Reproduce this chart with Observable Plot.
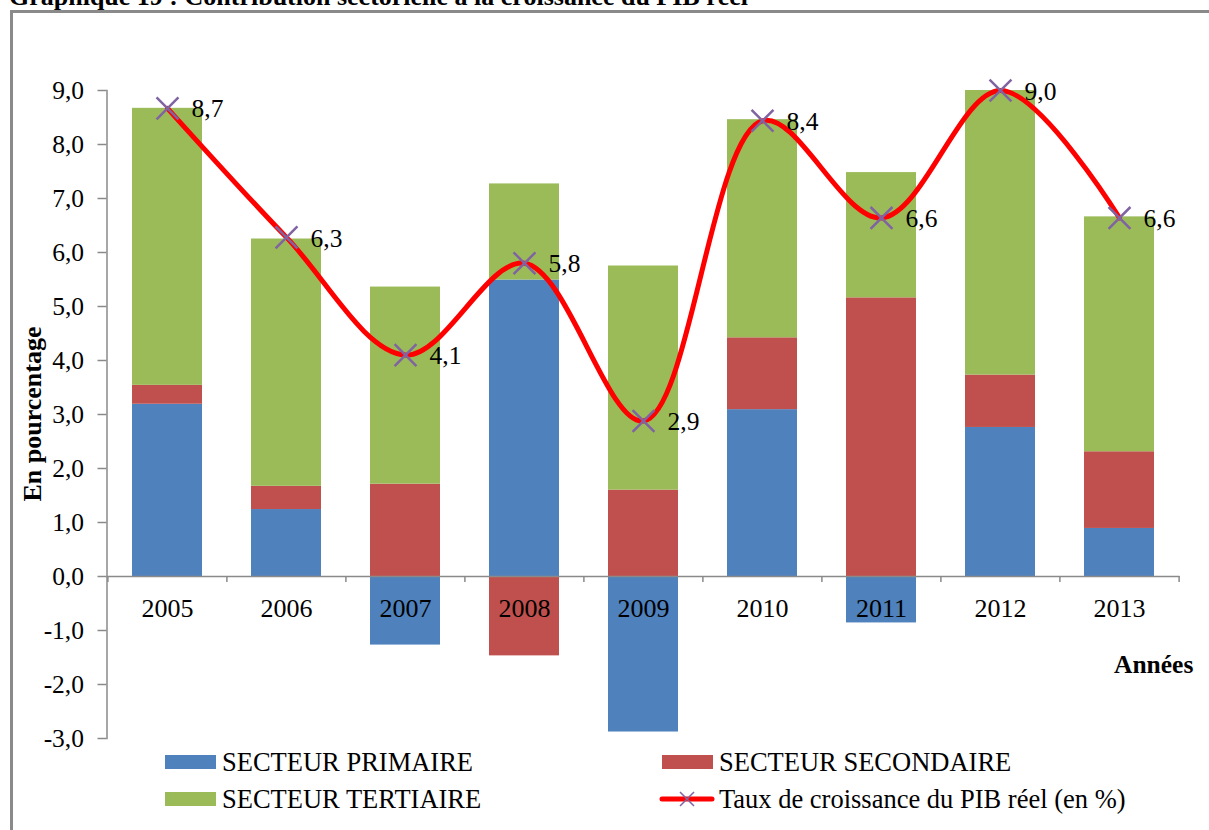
<!DOCTYPE html>
<html>
<head>
<meta charset="utf-8">
<script src="https://cdn.jsdelivr.net/npm/d3@7"></script>
<script src="https://cdn.jsdelivr.net/npm/@observablehq/plot@0.6"></script>
<style>
  html, body { margin: 0; padding: 0; background: #fff; }
  body { width: 1209px; height: 830px; position: relative; overflow: hidden;
         font-family: "Liberation Serif", "Times New Roman", serif; color: #000; }
  #frame { position: absolute; left: 10px; top: 10px; width: 1400px; height: 1000px;
           border-left: 3px solid #8a8a8a; border-top: 3px solid #8a8a8a; }
  #title { position: absolute; left: 9px; top: -16px; font-size: 26px; font-weight: bold;
           line-height: 1; white-space: nowrap; }
  #chart { position: absolute; left: 0; top: 0; }
  .lab { position: absolute; white-space: nowrap; font-size: 26.5px; line-height: 30px; }
  .sw { position: absolute; width: 51px; height: 14px; }
  #ylab { position: absolute; left: 33px; top: 414px; font-size: 26px; font-weight: bold;
          white-space: nowrap; transform: translate(-50%, -50%) rotate(-90deg); }
  #xlab { position: absolute; left: 1114px; top: 650px; font-size: 25.5px; font-weight: bold; line-height: 30px; }
</style>
</head>
<body>
<div id="frame"></div>
<div id="title">Graphique 19 : Contribution sectorielle à la croissance du PIB réel</div>
<div id="chart"></div>
<div id="ylab">En pourcentage</div>
<div id="xlab">Années</div>
<div id="legend"></div>
<script>
// ---- data ----
const years = ["2005", "2006", "2007", "2008", "2009", "2010", "2011", "2012", "2013"];
const secteurs = ["SECTEUR PRIMAIRE", "SECTEUR SECONDAIRE", "SECTEUR TERTIAIRE"];
const primaire   = [3.19, 1.24, -1.27, 5.49, -2.88, 3.09, -0.86, 2.76, 0.89];
const secondaire = [0.35, 0.43, 1.71, -1.47, 1.60, 1.33, 5.16, 0.97, 1.42];
const tertiaire  = [5.13, 4.58, 3.65, 1.78, 4.15, 4.04, 2.32, 5.27, 4.35];
const croissance = [8.67, 6.28, 4.10, 5.80, 2.88, 8.44, 6.64, 9.00, 6.64];
const lineName = "Taux de croissance du PIB réel (en %)";
const yTicks = [-3, -2, -1, 0, 1, 2, 3, 4, 5, 6, 7, 8, 9];

const colors = ["#4F81BD", "#C0504D", "#9BBB59"];
const lineColor = "#FF0000";
const markColor = "#8064A2";

const fmt = d => d.toFixed(1).replace(".", ",");

const rows = [];
years.forEach((y, i) => {
  rows.push({year: y, secteur: secteurs[0], value: primaire[i]});
  rows.push({year: y, secteur: secteurs[1], value: secondaire[i]});
  rows.push({year: y, secteur: secteurs[2], value: tertiaire[i]});
});
const growth = years.map((y, i) => ({year: y, value: croissance[i]}));

const W = 1209, H = 830;
const mL = 106.5, mR = 29.5, mT = 90, mB = 92;
const step = (W - mL - mR) / years.length;

const chart = Plot.plot({
  width: W, height: H,
  marginLeft: mL, marginRight: mR, marginTop: mT, marginBottom: mB,
  style: {fontFamily: "'Liberation Serif', 'Times New Roman', serif", fontSize: "25px", color: "#000", background: "transparent", overflow: "visible"},
  x: {domain: years, paddingInner: 0.41, paddingOuter: 0.205, axis: null},
  y: {domain: [-3, 9], axis: null},
  color: {domain: secteurs, range: colors},
  marks: [
    Plot.barY(rows, {x: "year", y: "value", fill: "secteur"}),
    Plot.ruleY([0], {stroke: "#8a8a8a", strokeWidth: 1.5}),
    Plot.ruleX(years, {x: d => d, y1: 0, y2: 0, dx: -step / 2, insetBottom: -6, stroke: "#8a8a8a", strokeWidth: 1.5}),
    Plot.ruleX([years[years.length - 1]], {x: d => d, y1: 0, y2: 0, dx: step / 2, insetBottom: -6, stroke: "#8a8a8a", strokeWidth: 1.5}),
    Plot.frame({anchor: "left", stroke: "#8a8a8a", strokeWidth: 1.5}),
    Plot.axisY({ticks: yTicks, tickFormat: fmt, tickSize: 9, tickPadding: 14, stroke: "#8a8a8a", strokeWidth: 1.5, fontSize: 25.5, label: null}),
    Plot.text(years, {x: d => d, y: () => 0, text: d => d, dy: 32, fontSize: 26, fill: "#000"}),
    Plot.line(growth, {x: "year", y: "value", curve: "catmull-rom", stroke: lineColor, strokeWidth: 5}),
    Plot.dot(growth, {x: "year", y: "value", symbol: "times", r: 10, stroke: markColor, strokeWidth: 2.5}),
    Plot.text(growth, {x: "year", y: "value", text: d => fmt(d.value), dx: 24, dy: 1, textAnchor: "start", fontSize: 25.5, fill: "#000"})
  ]
});
document.getElementById("chart").appendChild(chart);

// ---- legend ----
const legend = document.getElementById("legend");
const items = [
  {name: secteurs[0], color: colors[0], x: 165, y: 762, type: "bar"},
  {name: secteurs[1], color: colors[1], x: 662, y: 762, type: "bar"},
  {name: secteurs[2], color: colors[2], x: 165, y: 799, type: "bar"},
  {name: lineName, color: lineColor, x: 662, y: 799, type: "line"}
];
for (const it of items) {
  if (it.type === "bar") {
    const s = document.createElement("div");
    s.className = "sw";
    s.style.left = it.x + "px"; s.style.top = (it.y - 7) + "px"; s.style.background = it.color;
    legend.appendChild(s);
  } else {
    const ns = "http://www.w3.org/2000/svg";
    const svg = document.createElementNS(ns, "svg");
    svg.setAttribute("width", 56); svg.setAttribute("height", 20);
    svg.style.position = "absolute"; svg.style.left = (it.x - 3) + "px"; svg.style.top = (it.y - 10) + "px";
    const l = document.createElementNS(ns, "line");
    l.setAttribute("x1", 3); l.setAttribute("x2", 53); l.setAttribute("y1", 10); l.setAttribute("y2", 10);
    l.setAttribute("stroke", it.color); l.setAttribute("stroke-width", 5); l.setAttribute("stroke-linecap", "round");
    svg.appendChild(l);
    const p = document.createElementNS(ns, "path");
    p.setAttribute("d", "M21,3L35,17M35,3L21,17");
    p.setAttribute("stroke", markColor); p.setAttribute("stroke-width", 1.5); p.setAttribute("fill", "none");
    svg.appendChild(p);
    legend.appendChild(svg);
  }
  const t = document.createElement("div");
  t.className = "lab";
  t.textContent = it.name;
  t.style.left = (it.x + 57) + "px"; t.style.top = (it.y - 15) + "px";
  legend.appendChild(t);
}
</script>
</body>
</html>
